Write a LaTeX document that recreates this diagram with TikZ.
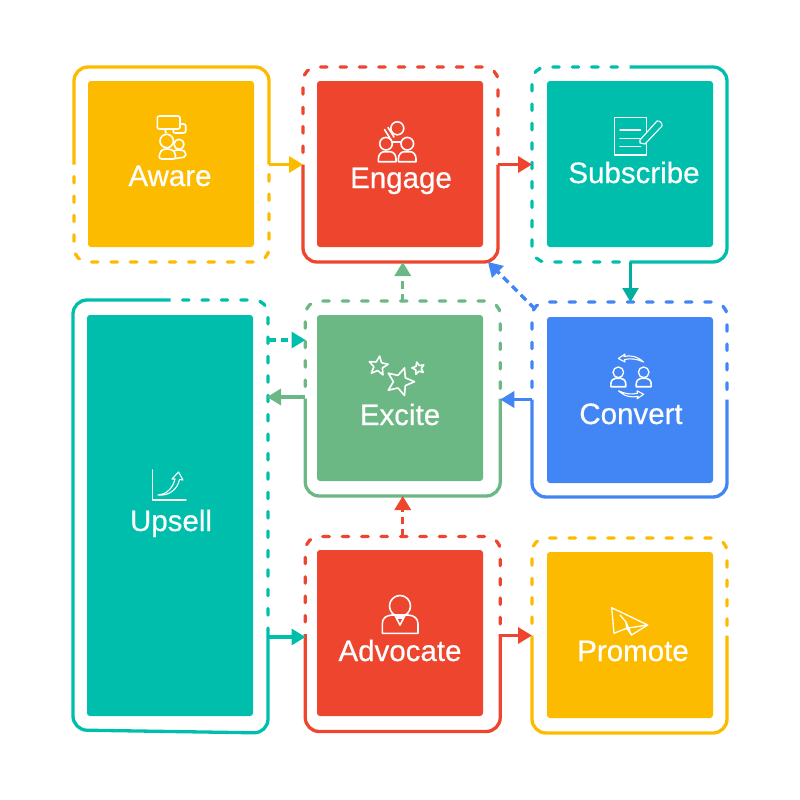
\documentclass[tikz,border=0pt]{standalone}
\usepackage{fontspec}
\setmainfont{Liberation Sans}
\newfontfamily\lblfont[RawFeature={embolden=0.5}]{Liberation Sans}
\usetikzlibrary{arrows.meta,shapes.geometric}
\definecolor{amber}{HTML}{FDBB00}
\definecolor{tomato}{HTML}{EE452E}
\definecolor{jade}{HTML}{00BEAC}
\definecolor{sky}{HTML}{4285F4}
\definecolor{sage}{HTML}{6BB885}
\tikzset{
	card/.style={rounded corners=3,inner sep=0,outer sep=0,minimum width=166,minimum height=166},
	frame/.style={inner sep=0,outer sep=0,minimum width=195,minimum height=195},
	lbl/.style={text=white,font=\lblfont\fontsize{29.5}{30}\selectfont,inner sep=0,anchor=base},
	solidpart/.style={line width=3.3,rounded corners=14},
	dashpart/.style={line width=3.3,rounded corners=14,line cap=round,dash pattern=on 6.5 off 12.9,dash phase=7.4},
	conn/.style={line width=3.3,->},
	dashconn/.style={line width=3.3,->,dash pattern=on 7.5 off 5},
	icon/.style={draw=white,line width=1.6,line join=round,line cap=round},
	shoulders/.pic={
		\draw[icon] (-8.8,0) -- (-8.8,-3) .. controls (-8.8,-7) and (-6,-10) .. (-3,-10) -- (3,-10) .. controls (6,-10) and (8.8,-7) .. (8.8,-3) -- (8.8,0) -- cycle;
	}
}
\begin{document}
\begin{tikzpicture}[x=1pt,y=-1pt,>={Triangle[length=14pt,width=16pt]},line join=round]
	\useasboundingbox (0,0) rectangle (800,800);
	% filled cards
	\foreach \n/\x/\y/\c in {aware/171/164/amber,engage/400/164/tomato,subscribe/630/164/jade,excite/400/398/sage,convert/630/400/sky,advocate/400/633/tomato,promote/630/635/amber}
		\node[card,fill=\c] (\n Card) at (\x,\y) {};
	\node[card,fill=jade,minimum height=401] (upsellCard) at (170,515.5) {};
	% outlines
	\foreach \n/\x/\y in {aware/171.5/164.5,engage/400.5/164.5,subscribe/629.5/164.5,excite/402.75/398.5,convert/629.5/399.5,advocate/402.75/634,promote/629.5/635.5}
		\node[frame] (\n) at (\x,\y) {};
	\node[frame,minimum height=432] (upsell) at (170.5,516) {};
	\coordinate (upsellMid) at (268,630);
	\coordinate (upsellFirst) at (268,340);
	\coordinate (exciteFirst) at (305.5,340);
	\coordinate (upsellSecond) at (267,397);
	\coordinate (advocateIn) at (305.5,637);
	\coordinate (upsellThird) at (268,637);
	\foreach \n/\c in {engage/tomato,excite/sage,convert/sky,advocate/tomato,promote/amber}{
		\draw[dashpart,\c] (\n.west) -- (\n.north west) -- (\n.north east) -- (\n.east);
		\draw[solidpart,\c] (\n.west) -- (\n.south west) -- (\n.south east) -- (\n.east);
	}
	\draw[solidpart,amber] (aware.west) -- (aware.north west) -- (aware.north east) -- (aware.east);
	\draw[dashpart,amber] (aware.west) -- (aware.south west) -- (aware.south east) -- (aware.east);
	\draw[dashpart,jade] (subscribe.north) -- (subscribe.north west) -- (subscribe.south west) -- (subscribe.south);
	\draw[solidpart,jade] (subscribe.north) -- (subscribe.north east) -- (subscribe.south east) -- (subscribe.south);
	\draw[solidpart,jade] (upsell.north) -- (upsell.north west) -- ([yshift=2]upsell.south west) -- ([yshift=-1]upsell.south east) -- (upsellMid);
	\draw[dashpart,jade] (upsell.north) -- (upsell.north east) -- (upsellMid);
	% connectors
	\draw[conn,amber] (aware.east) -- (engage.west);
	\draw[conn,tomato] (engage.east) -- (subscribe.west);
	\draw[conn,jade!92!black,line width=2.4] ([xshift=1]subscribe.south) -- ([xshift=1]convert.north);
	\draw[conn,sky] (convert.west) -- (convert.west -| excite.east);
	\draw[dashconn,sky] ([xshift=3,yshift=-7]convert.north west) -- ([xshift=-10]engage.south east);
	\draw[dashconn,sage] (excite.north) -- (excite.north |- engage.south);
	\draw[conn,sage] (excite.west |- upsellSecond) -- (upsellSecond);
	\draw[dashconn,jade] (upsellFirst) -- (exciteFirst);
	\draw[conn,jade] (upsellThird) -- (advocateIn);
	\draw[dashconn,tomato] (advocate.north) -- (excite.south);
	\draw[conn,tomato] (advocate.east |- promote.west) -- (promote.west);
	% labels
	\foreach \n/\t/\x/\y in {aware/Aware/170/186,engage/Engage/401/188,subscribe/Subscribe/634/183,excite/Excite/400/425,convert/Convert/631/424,advocate/Advocate/400/661,promote/Promote/633/661,upsell/Upsell/171/531}
		\node[lbl] (\n Label) at (\x,\y) {\t};
	% icon: aware
	\draw[icon,rounded corners=2,fill=amber] (174,124) -- (185.7,124) -- (185.7,133) -- (173,133) -- cycle;
	\draw[icon,rounded corners=2,fill=amber] (157.3,116) -- (180,116) -- (180,129) -- (157.3,129) -- cycle;
	\draw[icon] (165,129) -- (166,133);
	\draw[icon,rounded corners=2,fill=amber] (172,159) -- (172,152) -- (175,150) -- (183,150) -- (185.7,152) -- (185.7,157) -- cycle;
	\draw[icon,fill=amber] (179,144.3) circle (5);
	\draw[icon,rounded corners=3,fill=amber] (158.7,159) -- (160,152) -- (163,149) -- (171,149) -- (175,152) -- (176,159) -- cycle;
	\draw[icon,fill=amber] (166.7,141) circle (6.7);
	% icon: engage
	\draw[icon] (384.5,129.5) -- (391,140) (388,127.5) -- (394,137);
	\draw[icon] (397.3,128.3) circle (6.5) (386,143.7) circle (6.3) (407.3,143.7) circle (6.3) (392,142) -- (401,142);
	\pic at (387.2,161.7) {shoulders};
	\pic at (407.2,161.7) {shoulders};
	% icon: subscribe
	\draw[icon,line width=1.1] (614.3,117.7) rectangle (646.7,155);
	\draw[icon,line width=1.1] (620,130) -- (640.7,130) (620,138.3) -- (640,138.3) (620,146.7) -- (640.7,146.7);
	\draw[icon,line width=1.1,fill=jade] (640,140) -- (657,121) to[bend left=60] (662,126) -- (645,144) -- (640,143) -- cycle;
	% icon: excite
	\node[star,star points=5,star point ratio=2.2,icon,minimum size=20,inner sep=0,rotate=-8] (starLeft) at (378.3,366) {};
	\node[star,star points=5,star point ratio=2.2,icon,minimum size=29,inner sep=0,rotate=-18] (starMid) at (400,381.7) {};
	\node[star,star points=5,star point ratio=2.2,icon,minimum size=13,inner sep=0,rotate=14] (starRight) at (418.3,368.3) {};
	% icon: convert
	\draw[icon,line width=1.3] (618.3,372.3) circle (5.3) (643.7,372.3) circle (5.3);
	\pic[scale=.85] at (618.3,386.7) {shoulders};
	\pic[scale=.85] at (643.7,386.7) {shoulders};
	\foreach \a in {0,180}
		\draw[icon,line width=1.1,rotate around={\a:(631,376.4)}] (643.5,362) .. controls (637,356) and (630,355) .. (624,356.5) -- (625,354) -- (618.3,358.5) -- (625,362) -- (624.5,359.5) .. controls (631,358) and (637,359) .. (643.5,362) -- cycle;
	% icon: upsell
	\draw[icon,line width=1.3] (152.7,470) -- (152.7,500) -- (186,500);
	\draw[icon,line width=1.1] (158,495) .. controls (168,494) and (173,487) .. (175,479) -- (172,479) -- (178.5,472) -- (183,480) -- (179.5,479.5) .. controls (177,490) and (169,496) .. (158,495) -- cycle;
	% icon: advocate
	\draw[icon] (400,606) circle (10.5);
	\draw[icon] (382.3,633.3) -- (382.3,624) .. controls (382.3,618) and (386,615.5) .. (392,615) -- (408,615) .. controls (414,615.5) and (418,618) .. (418,624) -- (418,633.3) -- cycle;
	\draw[icon] (395,615.5) -- (400,625) -- (405,615.5) (397,618) -- (403,618);
	% icon: promote
	\draw[icon,line width=1.3] (611.7,607.7) -- (647.7,625) -- (626.7,628.3) -- (614,633.3) -- cycle;
	\draw[icon,line width=1.3] (620,615) -- (626,622) -- (631.5,635) -- (647.7,625) (626,622) -- (626.7,628.3) -- (631.5,635);
\end{tikzpicture}
\end{document}
